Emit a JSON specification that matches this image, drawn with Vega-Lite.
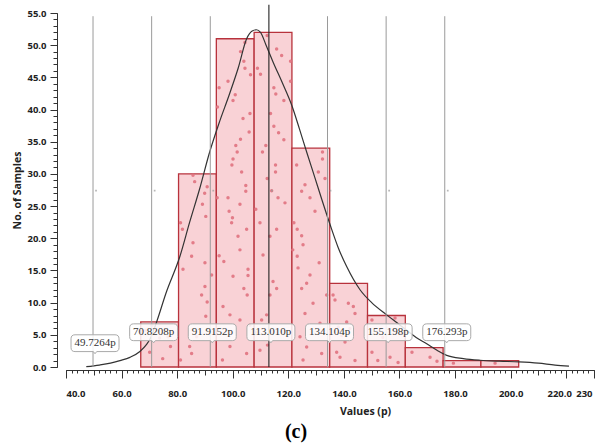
{
  "$schema": "https://vega.github.io/schema/vega-lite/v6.json",
  "autosize": {"type": "none"},
  "width": 528,
  "height": 354,
  "padding": {"left": 66, "top": 13, "right": 7, "bottom": 78},
  "background": "white",
  "config": {
    "view": {"stroke": null},
    "axis": {"grid": false, "domainColor": "#333", "tickColor": "#333", "labelColor": "#222", "titleColor": "#222", "labelFont": "Open Sans", "titleFont": "Open Sans", "labelFontWeight": "bold", "titleFontWeight": "bold"}
  },
  "title": {"text": "(c)", "orient": "bottom", "font": "Liberation Serif", "fontSize": 20, "fontWeight": "bold", "color": "#000", "anchor": "middle", "dx": -34, "offset": 5},
  "datasets": {
    "bins": [
      {"b0": 66.9, "b1": 80.5, "n": 7},
      {"b0": 80.5, "b1": 94.1, "n": 30},
      {"b0": 94.1, "b1": 107.7, "n": 51},
      {"b0": 107.7, "b1": 121.3, "n": 52},
      {"b0": 121.3, "b1": 134.9, "n": 34},
      {"b0": 134.9, "b1": 148.5, "n": 13},
      {"b0": 148.5, "b1": 162.1, "n": 8},
      {"b0": 162.1, "b1": 175.7, "n": 3},
      {"b0": 175.7, "b1": 189.3, "n": 1},
      {"b0": 189.3, "b1": 202.9, "n": 1}
    ],
    "dots": [
      {"x":68.7,"y":5.7},{"x":70.9,"y":6.5},{"x":73.7,"y":4.5},{"x":76.7,"y":4.7},{"x":77.6,"y":3.2},{"x":70.1,"y":2.3},{"x":74.8,"y":1.3},
      {"x":85.7,"y":29.8},{"x":86.3,"y":28.8},{"x":90.8,"y":28.0},{"x":89.9,"y":27.0},{"x":89.1,"y":25.3},{"x":90.3,"y":23.4},{"x":81.2,"y":22.4},{"x":81.9,"y":21.4},{"x":85.7,"y":19.3},{"x":85.2,"y":17.2},{"x":90.0,"y":16.2},{"x":82.1,"y":15.2},{"x":92.4,"y":14.3},{"x":88.8,"y":11.2},{"x":90.8,"y":10.1},{"x":90.3,"y":7.9},{"x":84.5,"y":3.2},{"x":85.2,"y":2.1},{"x":81.2,"y":1.1},{"x":87.0,"y":4.7},{"x":90.0,"y":12.5},
      {"x":104.4,"y":50.4},{"x":102.8,"y":49.0},{"x":104.0,"y":47.5},{"x":104.4,"y":46.4},{"x":106.4,"y":45.4},{"x":95.1,"y":43.4},{"x":98.3,"y":44.4},{"x":100.9,"y":42.3},{"x":100.1,"y":41.4},{"x":94.5,"y":40.4},{"x":106.2,"y":39.4},{"x":103.7,"y":38.6},{"x":105.9,"y":36.5},{"x":102.8,"y":35.4},{"x":101.1,"y":34.4},{"x":101.6,"y":33.4},{"x":100.1,"y":32.3},{"x":99.7,"y":31.4},{"x":103.2,"y":30.3},{"x":104.7,"y":28.2},{"x":104.7,"y":27.3},{"x":98.3,"y":26.3},{"x":94.4,"y":26.3},{"x":102.6,"y":25.3},{"x":98.7,"y":24.2},{"x":99.9,"y":23.2},{"x":99.6,"y":22.4},{"x":105.0,"y":21.4},{"x":101.9,"y":20.3},{"x":102.6,"y":18.2},{"x":95.1,"y":17.3},{"x":96.8,"y":16.4},{"x":105.5,"y":15.2},{"x":105.5,"y":14.2},{"x":100.1,"y":14.1},{"x":104.0,"y":12.2},{"x":105.2,"y":11.2},{"x":96.5,"y":9.4},{"x":99.0,"y":8.1},{"x":102.6,"y":7.3},{"x":106.2,"y":6.5},{"x":99.0,"y":3.2},{"x":96.3,"y":1.1},{"x":105.0,"y":2.1},
      {"x":112.4,"y":51.5},{"x":115.8,"y":49.4},{"x":117.6,"y":48.4},{"x":108.9,"y":46.4},{"x":110.0,"y":45.5},{"x":114.8,"y":43.4},{"x":115.5,"y":42.4},{"x":118.4,"y":41.4},{"x":113.6,"y":39.4},{"x":114.8,"y":37.4},{"x":116.5,"y":36.4},{"x":118.4,"y":35.3},{"x":111.9,"y":34.4},{"x":110.7,"y":33.4},{"x":115.4,"y":31.4},{"x":115.4,"y":30.3},{"x":112.4,"y":29.3},{"x":114.0,"y":27.4},{"x":116.3,"y":26.3},{"x":118.8,"y":25.5},{"x":108.3,"y":24.5},{"x":109.8,"y":22.4},{"x":115.8,"y":21.4},{"x":113.4,"y":20.3},{"x":110.9,"y":17.4},{"x":114.5,"y":13.3},{"x":115.8,"y":12.2},{"x":113.4,"y":11.2},{"x":112.2,"y":8.1},{"x":110.4,"y":7.3},{"x":108.0,"y":5.4},{"x":109.8,"y":2.6},{"x":112.5,"y":3.4},{"x":120.8,"y":47.5},{"x":120.8,"y":44.4},
      {"x":132.3,"y":33.4},{"x":132.3,"y":32.3},{"x":123.0,"y":31.4},{"x":130.8,"y":30.3},{"x":133.2,"y":29.3},{"x":126.0,"y":28.3},{"x":124.8,"y":27.3},{"x":127.8,"y":26.3},{"x":129.6,"y":24.2},{"x":122.0,"y":22.4},{"x":123.2,"y":21.4},{"x":124.8,"y":20.4},{"x":125.3,"y":19.0},{"x":121.6,"y":18.2},{"x":123.2,"y":17.2},{"x":131.1,"y":16.2},{"x":123.5,"y":15.4},{"x":127.8,"y":14.3},{"x":126.6,"y":13.0},{"x":124.8,"y":12.2},{"x":133.8,"y":11.2},{"x":128.9,"y":9.9},{"x":126.0,"y":8.3},{"x":131.4,"y":6.8},{"x":124.2,"y":4.7},{"x":126.6,"y":3.1},{"x":132.0,"y":2.1},{"x":125.3,"y":1.1},
      {"x":136.1,"y":11.2},{"x":136.8,"y":10.4},{"x":141.6,"y":9.9},{"x":143.4,"y":9.4},{"x":144.0,"y":8.3},{"x":141.0,"y":7.0},{"x":138.0,"y":6.2},{"x":142.2,"y":6.0},{"x":139.2,"y":4.9},{"x":140.4,"y":3.9},{"x":137.4,"y":2.3},{"x":138.6,"y":1.5},{"x":144.0,"y":1.0},
      {"x":150.1,"y":7.3},{"x":158.4,"y":7.6},{"x":154.0,"y":4.6},{"x":160.2,"y":5.4},{"x":150.1,"y":2.3},{"x":156.6,"y":1.5},{"x":159.5,"y":0.7},{"x":152.2,"y":1.0},
      {"x":164.5,"y":2.3},{"x":171.0,"y":1.5},{"x":173.5,"y":0.9},
      {"x":179.4,"y":0.6},{"x":194.4,"y":0.6}
    ],
    "curve": [
      {"x":47.3,"y":0.05},{"x":52,"y":0.3},{"x":56,"y":0.6},{"x":59.4,"y":1.0},{"x":63,"y":1.5},{"x":66.6,"y":2.4},{"x":69,"y":3.5},{"x":70.2,"y":4.3},{"x":72.6,"y":7.0},{"x":76,"y":11.5},{"x":81,"y":17.2},{"x":84.5,"y":22.5},{"x":88.1,"y":27.7},{"x":91.7,"y":33.4},{"x":95,"y":37.8},{"x":98.9,"y":42.5},{"x":102,"y":46.5},{"x":105,"y":51},{"x":107,"y":52.2},{"x":108.5,"y":52.4},{"x":110,"y":52},{"x":112,"y":50},{"x":114.5,"y":47.4},{"x":118,"y":44},{"x":121.2,"y":40.7},{"x":124,"y":37},{"x":126.6,"y":33.4},{"x":129.5,"y":29.5},{"x":132,"y":26.1},{"x":135.2,"y":21.9},{"x":138,"y":18.5},{"x":141,"y":15.6},{"x":145.8,"y":12.0},{"x":150,"y":10},{"x":155.4,"y":8.1},{"x":159,"y":6.9},{"x":162.6,"y":5.7},{"x":166,"y":4.6},{"x":169.8,"y":3.6},{"x":173.5,"y":2.6},{"x":177,"y":1.8},{"x":183,"y":1.3},{"x":189,"y":1.05},{"x":196,"y":0.9},{"x":203,"y":0.8},{"x":210,"y":0.6},{"x":216,"y":0.3},{"x":221,"y":0.15}
    ],
    "labels": [
      {"v": 49.7264, "label": "49.7264p", "ly": 3.7},
      {"v": 70.8208, "label": "70.8208p", "ly": 5.4},
      {"v": 91.9152, "label": "91.9152p", "ly": 5.4},
      {"v": 113.010, "label": "113.010p", "ly": 5.4},
      {"v": 134.104, "label": "134.104p", "ly": 5.4},
      {"v": 155.198, "label": "155.198p", "ly": 5.4},
      {"v": 176.293, "label": "176.293p", "ly": 5.4}
    ]
  },
  "resolve": {"scale": {"x": "shared", "y": "shared"}, "axis": {"x": "independent", "y": "independent"}},
  "layer": [
    {
      "data": {"name": "bins"},
      "mark": {"type": "rect", "fill": "#f9d2d6", "stroke": "#b8323c", "strokeWidth": 1.3},
      "encoding": {
        "x": {"field": "b0", "type": "quantitative", "scale": {"domain": [40, 230], "nice": false, "zero": false},
          "axis": {"orient": "bottom", "offset": 3, "values": [40,60,80,100,120,140,160,180,200,220,230], "labelExpr": "datum.value == 230 ? '230' : format(datum.value, '.1f')", "labelOffset": {"condition": [{"test": "datum.value == 220", "value": -7}, {"test": "datum.value == 230", "value": -2}], "value": 0}, "tickSize": 8, "labelFontSize": 9.5, "labelPadding": 10, "labelOverlap": false, "title": "Values (p)", "titleFontSize": 10.5, "titlePadding": 9, "titleX": 299}},
        "x2": {"field": "b1"},
        "y": {"field": "n", "type": "quantitative", "scale": {"domain": [0, 55], "nice": false, "zero": true},
          "axis": {"orient": "left", "offset": 9, "values": [0,5,10,15,20,25,30,35,40,45,50,55], "format": ".1f", "tickSize": 7, "labelFontSize": 9.5, "labelPadding": 4, "title": "No. of Samples", "titleFontSize": 10.5, "titlePadding": 4}},
        "y2": {"datum": 0}
      }
    },
    {
      "data": {"name": "dots"},
      "mark": {"type": "point", "filled": true, "color": "#e0727f", "size": 12, "opacity": 0.9},
      "encoding": {
        "x": {"field": "x", "type": "quantitative", "scale": {"domain": [40, 230], "nice": false, "zero": false},
          "axis": {"orient": "bottom", "offset": 3, "values": [40,42,44,46,48,50,52,54,56,58,60,62,64,66,68,70,72,74,76,78,80,82,84,86,88,90,92,94,96,98,100,102,104,106,108,110,112,114,116,118,120,122,124,126,128,130,132,134,136,138,140,142,144,146,148,150,152,154,156,158,160,162,164,166,168,170,172,174,176,178,180,182,184,186,188,190,192,194,196,198,200,202,204,206,208,210,212,214,216,218,220,222,224,226,228,230], "tickSize": 3, "labels": false, "domain": false, "title": null}},
        "y": {"field": "y", "type": "quantitative", "scale": {"domain": [0, 55], "nice": false, "zero": true},
          "axis": {"orient": "left", "offset": 9, "values": [0,1,2,3,4,5,6,7,8,9,10,11,12,13,14,15,16,17,18,19,20,21,22,23,24,25,26,27,28,29,30,31,32,33,34,35,36,37,38,39,40,41,42,43,44,45,46,47,48,49,50,51,52,53,54,55], "tickSize": 4, "labels": false, "domain": false, "title": null}}
      }
    },
    {
      "data": {"name": "curve"},
      "mark": {"type": "line", "color": "#333", "strokeWidth": 1.2, "interpolate": "monotone"},
      "encoding": {
        "x": {"field": "x", "type": "quantitative", "scale": {"domain": [40, 230], "nice": false, "zero": false},
          "axis": {"orient": "bottom", "offset": 3, "values": [40,50,60,70,80,90,100,110,120,130,140,150,160,170,180,190,200,210,220,230], "tickSize": 5, "labels": false, "domain": false, "title": null}},
        "y": {"field": "y", "type": "quantitative", "scale": {"domain": [0, 55], "nice": false, "zero": true}, "axis": null}
      }
    },
    {
      "data": {"name": "labels"},
      "transform": [{"filter": "datum.v != 113.01"}],
      "mark": {"type": "rule", "color": "#9a9a9a", "strokeWidth": 1},
      "encoding": {
        "x": {"field": "v", "type": "quantitative", "scale": {"domain": [40, 230], "nice": false, "zero": false}, "axis": null},
        "y": {"datum": 0, "type": "quantitative", "axis": null},
        "y2": {"datum": 54.5}
      }
    },
    {
      "data": {"name": "labels"},
      "transform": [{"filter": "datum.v == 113.01"}],
      "mark": {"type": "rule", "color": "#222", "strokeWidth": 1.1},
      "encoding": {
        "x": {"field": "v", "type": "quantitative", "scale": {"domain": [40, 230], "nice": false, "zero": false}, "axis": null},
        "y": {"datum": 0, "type": "quantitative", "axis": null},
        "y2": {"datum": 56.3}
      }
    },
    {
      "data": {"name": "labels"},
      "mark": {"type": "point", "shape": "square", "filled": true, "size": 3, "color": "#999", "xOffset": 3},
      "encoding": {
        "x": {"field": "v", "type": "quantitative", "scale": {"domain": [40, 230], "nice": false, "zero": false}, "axis": null},
        "y": {"datum": 27.4, "type": "quantitative", "axis": null}
      }
    },
    {
      "data": {"name": "labels"},
      "mark": {"type": "point", "shape": "M-0.833,-0.35 L0.833,-0.35 Q1,-0.35 1,-0.183 L1,0.183 Q1,0.35 0.833,0.35 L0.07,0.35 L0,0.44 L-0.07,0.35 L-0.833,0.35 Q-1,0.35 -1,0.183 L-1,-0.183 Q-1,-0.35 -0.833,-0.35 Z", "size": 2304, "filled": true, "fill": "#ffffff", "fillOpacity": 0.85, "stroke": "#aaaaaa", "strokeWidth": 1, "opacity": 1, "xOffset": 2},
      "encoding": {
        "x": {"field": "v", "type": "quantitative", "scale": {"domain": [40, 230], "nice": false, "zero": false}, "axis": null},
        "y": {"field": "ly", "type": "quantitative", "axis": null}
      }
    },
    {
      "data": {"name": "labels"},
      "mark": {"type": "text", "font": "Liberation Serif", "fontSize": 11, "color": "#333", "align": "center", "baseline": "middle", "xOffset": 2},
      "encoding": {
        "x": {"field": "v", "type": "quantitative", "scale": {"domain": [40, 230], "nice": false, "zero": false}, "axis": null},
        "y": {"field": "ly", "type": "quantitative", "axis": null},
        "text": {"field": "label"}
      }
    }
  ]
}
